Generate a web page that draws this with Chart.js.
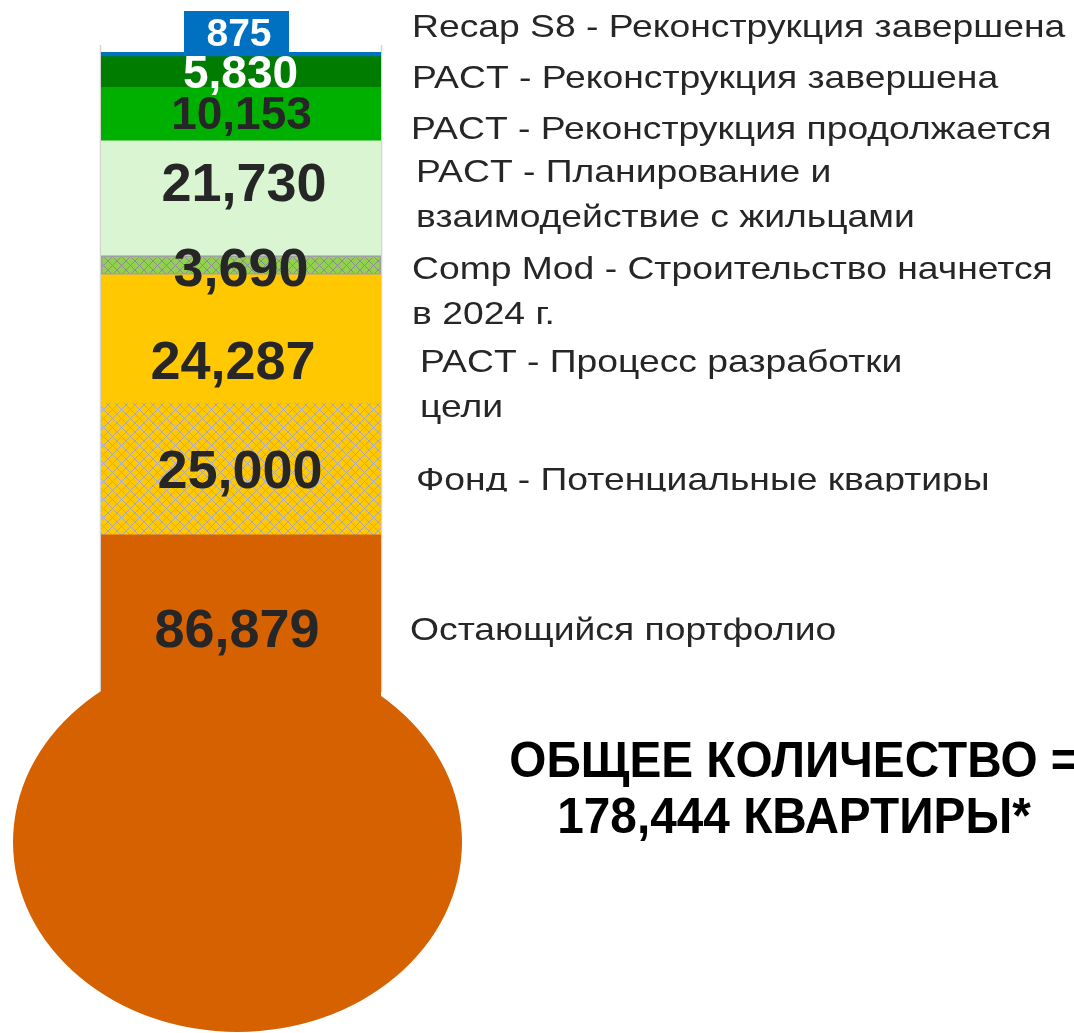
<!DOCTYPE html>
<html>
<head>
<meta charset="utf-8">
<script src="https://cdn.jsdelivr.net/npm/chart.js@4.4.1/dist/chart.umd.min.js"></script>
<style>
html,body{margin:0;padding:0;background:#fff;overflow:hidden}
#wrap{position:relative;width:1074px;height:1033px}
canvas{display:block}
</style>
</head>
<body>
<div id="wrap"><canvas id="c" width="1074" height="1033"></canvas></div>
<script>
// ---------- DATA (top of thermometer to bottom) ----------
const categories = ['Квартиры'];
const seriesNames = [
  'Recap S8 - Реконструкция завершена',
  'PACT - Реконструкция завершена',
  'PACT - Реконструкция продолжается',
  'PACT - Планирование и взаимодействие с жильцами',
  'Comp Mod - Строительство начнется в 2024 г.',
  'PACT - Процесс разработки цели',
  'Фонд - Потенциальные квартиры',
  'Остающийся портфолио'
];
const seriesValues = [875, 5830, 10153, 21730, 3690, 24287, 25000, 86879];
// text lines shown to the right of the tube (one entry per series)
const seriesLabelLines = [
  ['Recap S8 - Реконструкция завершена'],
  ['PACT - Реконструкция завершена'],
  ['PACT - Реконструкция продолжается'],
  ['PACT - Планирование и', 'взаимодействие с жильцами'],
  ['Comp Mod - Строительство начнется', 'в 2024 г.'],
  ['PACT - Процесс разработки', 'цели'],
  ['Фонд - Потенциальные квартиры'],
  ['Остающийся портфолио']
];
const totalTitleLine1 = 'ОБЩЕЕ КОЛИЧЕСТВО =';
const totalTitleSuffix = 'КВАРТИРЫ*';

// ---------- STYLE ----------
function makePattern(bg, line, size) {
  const c = document.createElement('canvas');
  c.width = size; c.height = size;
  const g = c.getContext('2d');
  g.fillStyle = bg; g.fillRect(0, 0, size, size);
  g.fillStyle = line;
  for (let i = 0; i < size; i++) {
    g.fillRect(i, i, 1, 1);
    g.fillRect(size - 1 - i, i, 1, 1);
  }
  return g.createPattern(c, 'repeat');
}
const ctx0 = document.getElementById('c').getContext('2d');
const seriesColors = [
  '#0070C0',
  '#007D00',
  '#00B000',
  '#D9F5D2',
  makePattern('#92D050', '#8E8E8E', 9),
  '#FFC800',
  makePattern('#FFC800', '#A8A8B8', 9),
  '#D56100'
];
const seriesBorder = [0, 0, 0, 0, 2, 0, 0, 0];
const valueColors = ['#FFFFFF', '#FFFFFF', '#262626', '#262626', '#262626', '#262626', '#262626', '#262626'];
const valueFontSizes = [39, 46, 46, 54, 54, 54, 54, 54];
const valueOffsetY = [0, -0.5, -1.5, -16.5, 1.5, 21, 0, -136];
const valueOffsetX = [-2, -0.5, 0.5, 3, 0, -8, -1, -4];
// right-hand label layout: [x, baseline of first line]
const labelLayout = [
  [412, 37], [412, 87.5], [411, 138.5], [416, 181.5],
  [412, 278.5], [420, 371.5], [416, 489.5], [410, 639.5]
];
const labelLineGap = 45;
const bulb = { cx: 237.5, cy: 842, rx: 224.5, ry: 190, color: '#D56100' };

const total = seriesValues.reduce((a, b) => a + b, 0);
const fmt = v => v.toLocaleString('en-US');

// datasets are stacked from the bottom up, so reverse the top-to-bottom order
const order = seriesValues.map((_, i) => i).reverse();
const datasets = order.map(i => ({
  label: seriesNames[i],
  data: [seriesValues[i]],
  backgroundColor: seriesColors[i],
  borderColor: '#A0A0A0',
  borderWidth: seriesBorder[i],
  borderSkipped: false,
  barPercentage: 1,
  categoryPercentage: 1,
  _idx: i
}));

function drawStretched(ctx, text, x, y, sx, align) {
  ctx.save();
  ctx.translate(x, y);
  ctx.scale(sx, 1);
  ctx.textAlign = align || 'left';
  ctx.fillText(text, 0, 0);
  ctx.restore();
}

const thermoPlugin = {
  id: 'thermo',
  beforeDatasetsDraw(chart) {
    const ctx = chart.ctx;
    const a = chart.chartArea;
    ctx.save();
    ctx.strokeStyle = '#D4D4D4';
    ctx.lineWidth = 1.5;
    ctx.beginPath();
    ctx.moveTo(a.left - 0.5, a.top - 7); ctx.lineTo(a.left - 0.5, 692);
    ctx.moveTo(a.right + 0.5, a.top - 7); ctx.lineTo(a.right + 0.5, 692);
    ctx.stroke();
    ctx.restore();
    // keep the tube's lower end hidden inside the bulb
    ctx.save();
    ctx.beginPath();
    ctx.rect(0, 0, chart.width, bulb.cy);
    ctx.clip();
  },
  afterDatasetsDraw(chart) {
    const ctx = chart.ctx;
    ctx.restore();
    ctx.save();
    // bulb
    ctx.fillStyle = bulb.color;
    ctx.beginPath();
    ctx.ellipse(bulb.cx, bulb.cy, bulb.rx, bulb.ry, 0, 0, Math.PI * 2);
    ctx.fill();

    // value labels
    ctx.textBaseline = 'alphabetic';
    ctx.textAlign = 'center';
    chart.data.datasets.forEach((ds, di) => {
      const i = ds._idx;
      const el = chart.getDatasetMeta(di).data[0];
      const size = valueFontSizes[i];
      ctx.font = 'bold ' + size + 'px "Liberation Sans", Arial, sans-serif';
      const cx = el.x + valueOffsetX[i];
      if (i === 0) {
        const top = Math.min(el.y, el.base);
        const bw = 105, bh = 41;
        ctx.fillStyle = seriesColors[0];
        ctx.fillRect(el.x - 4.5 - bw / 2, top - bh, bw, bh);
        ctx.fillStyle = valueColors[i];
        ctx.fillText(fmt(seriesValues[i]), cx, top - 6.3);
      } else {
        const mid = (el.y + el.base) / 2 + valueOffsetY[i];
        ctx.fillStyle = valueColors[i];
        ctx.fillText(fmt(seriesValues[i]), cx, mid + 0.358 * size);
      }
    });

    // series labels to the right
    ctx.fillStyle = '#262626';
    ctx.font = '32px "Liberation Sans", Arial, sans-serif';
    seriesLabelLines.forEach((lines, i) => {
      const [x, y0] = labelLayout[i];
      ctx.save();
      if (i === 6) { ctx.beginPath(); ctx.rect(x - 5, y0 - 40, 700, 42); ctx.clip(); }
      lines.forEach((t, k) => drawStretched(ctx, t, x, y0 + k * labelLineGap, 1.165, 'left'));
      ctx.restore();
    });

    // total title
    ctx.fillStyle = '#000000';
    ctx.font = 'bold 50px "Liberation Sans", Arial, sans-serif';
    drawStretched(ctx, totalTitleLine1, 794, 777, 0.955, 'center');
    drawStretched(ctx, fmt(total) + ' ' + totalTitleSuffix, 794, 833, 0.955, 'center');
    ctx.restore();
  }
};

new Chart(ctx0, {
  type: 'bar',
  data: { labels: categories, datasets },
  options: {
    responsive: false,
    devicePixelRatio: 1,
    animation: false,
    layout: { padding: { top: 52, bottom: 40, left: 101, right: 693 } },
    plugins: { legend: { display: false }, tooltip: { enabled: false } },
    scales: {
      x: { stacked: true, display: false },
      y: { stacked: true, display: false, min: 0, max: total }
    }
  },
  plugins: [thermoPlugin]
});
</script>
</body>
</html>
